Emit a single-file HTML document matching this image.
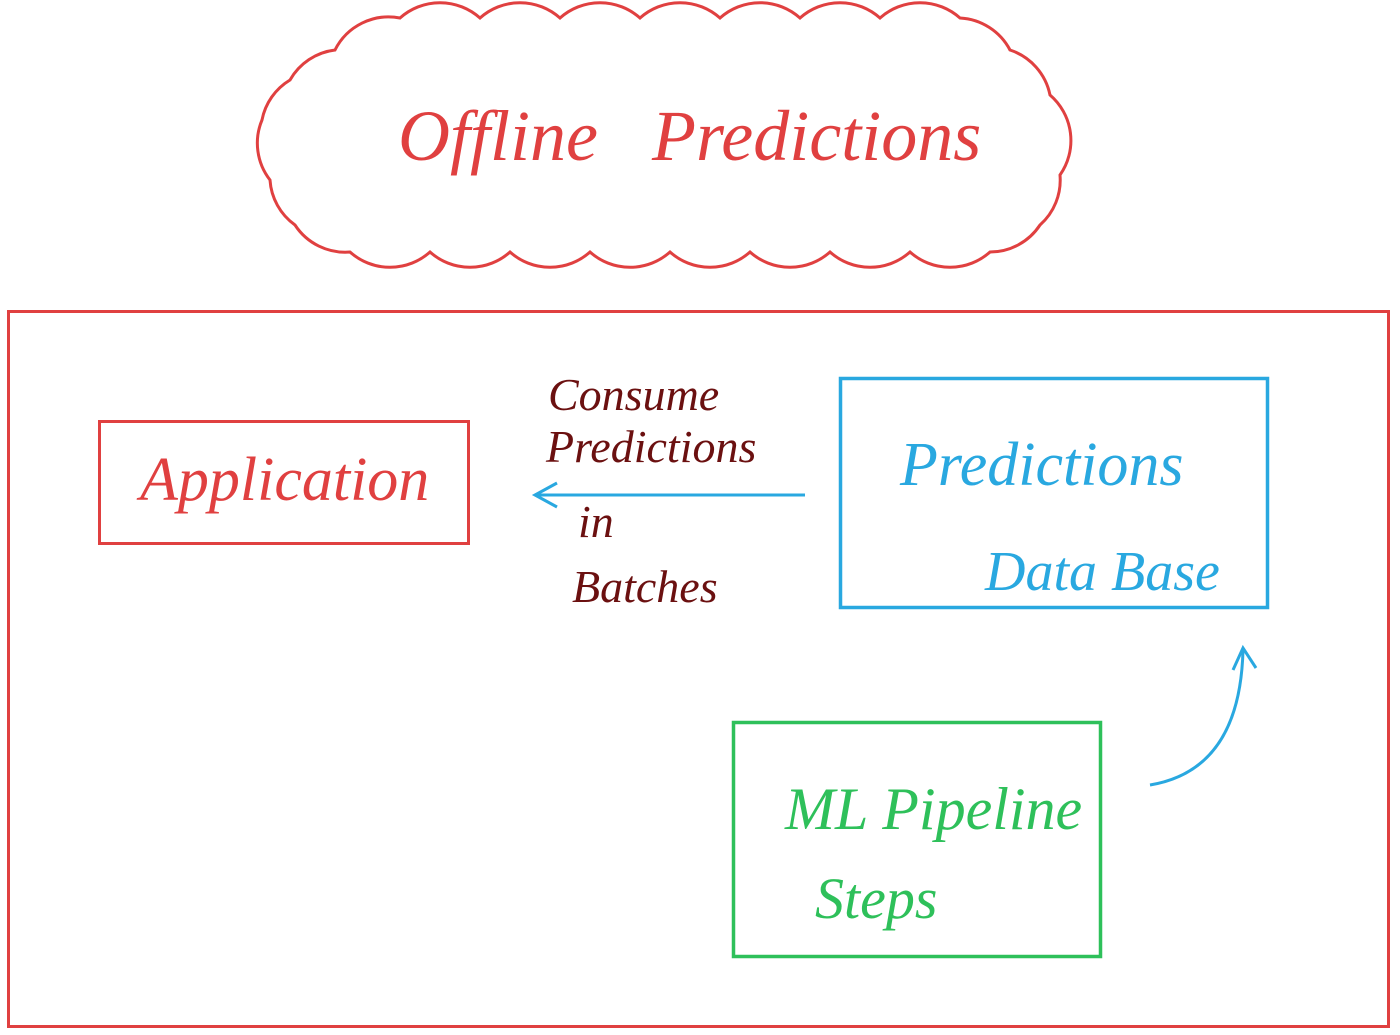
<!DOCTYPE html>
<html><head><meta charset="utf-8"><style>
html,body{margin:0;padding:0;background:#fff;}
body{width:1400px;height:1035px;position:relative;overflow:hidden;font-family:"Liberation Serif",serif;font-style:italic;}
.t{position:absolute;white-space:nowrap;}
.c{position:absolute;white-space:nowrap;font-size:46px;color:#6b1010;}
</style></head><body>
<svg width="1400" height="1035" style="position:absolute;left:0;top:0">
<path d="M290,80 A60,60 0 0 1 335,50 A60,60 0 0 1 400,18 A60,60 0 0 1 480,18 A60,60 0 0 1 560,18 A60,60 0 0 1 640,18 A60,60 0 0 1 720,18 A60,60 0 0 1 800,18 A60,60 0 0 1 880,18 A60,60 0 0 1 960,18 A60,60 0 0 1 1010,50 A60,60 0 0 1 1050,95 A60,60 0 0 1 1060,175 A60,60 0 0 1 1040,225 A60,60 0 0 1 990,252 A60,60 0 0 1 910,252 A60,60 0 0 1 830,252 A60,60 0 0 1 750,252 A60,60 0 0 1 670,252 A60,60 0 0 1 590,252 A60,60 0 0 1 510,252 A60,60 0 0 1 430,252 A60,60 0 0 1 350,252 A60,60 0 0 1 295,225 A60,60 0 0 1 270,180 A60,60 0 0 1 262,120 A60,60 0 0 1 290,80 Z" fill="none" stroke="#e04040" stroke-width="3"/>
<rect x="8.5" y="311.5" width="1380" height="715" fill="none" stroke="#e04040" stroke-width="3"/>
<rect x="99.5" y="421.5" width="369" height="122" fill="none" stroke="#e04040" stroke-width="3"/>
<rect x="840.5" y="378.5" width="427" height="229" fill="none" stroke="#29a8e0" stroke-width="3.5"/>
<rect x="733.5" y="722.5" width="367" height="234" fill="none" stroke="#2ec05a" stroke-width="3.5"/>
<line x1="805" y1="495" x2="537" y2="495" stroke="#29a8e0" stroke-width="3"/>
<polyline points="557,483 535,495 557,507" fill="none" stroke="#29a8e0" stroke-width="3"/>
<path d="M1150,785 Q1240,770 1243,650" fill="none" stroke="#29a8e0" stroke-width="3"/>
<polyline points="1233,670 1243,648 1256,668" fill="none" stroke="#29a8e0" stroke-width="3"/>
</svg>
<div class="t" style="left:398px;top:95px;font-size:72px;color:#e04040;">Offline &nbsp;&nbsp;Predictions</div>
<div class="t" style="left:140px;top:445px;font-size:62px;color:#e04040;">Application</div>
<div class="c" style="left:548px;top:368px;">Consume</div>
<div class="c" style="left:546px;top:420px;">Predictions</div>
<div class="c" style="left:578px;top:495px;">in</div>
<div class="c" style="left:572px;top:560px;">Batches</div>
<div class="t" style="left:900px;top:430px;font-size:62px;color:#29a8e0;">Predictions</div>
<div class="t" style="left:985px;top:540px;font-size:56px;color:#29a8e0;">Data Base</div>
<div class="t" style="left:785px;top:775px;font-size:60px;color:#2ec05a;">ML Pipeline</div>
<div class="t" style="left:815px;top:865px;font-size:58px;color:#2ec05a;">Steps</div>
</body></html>
